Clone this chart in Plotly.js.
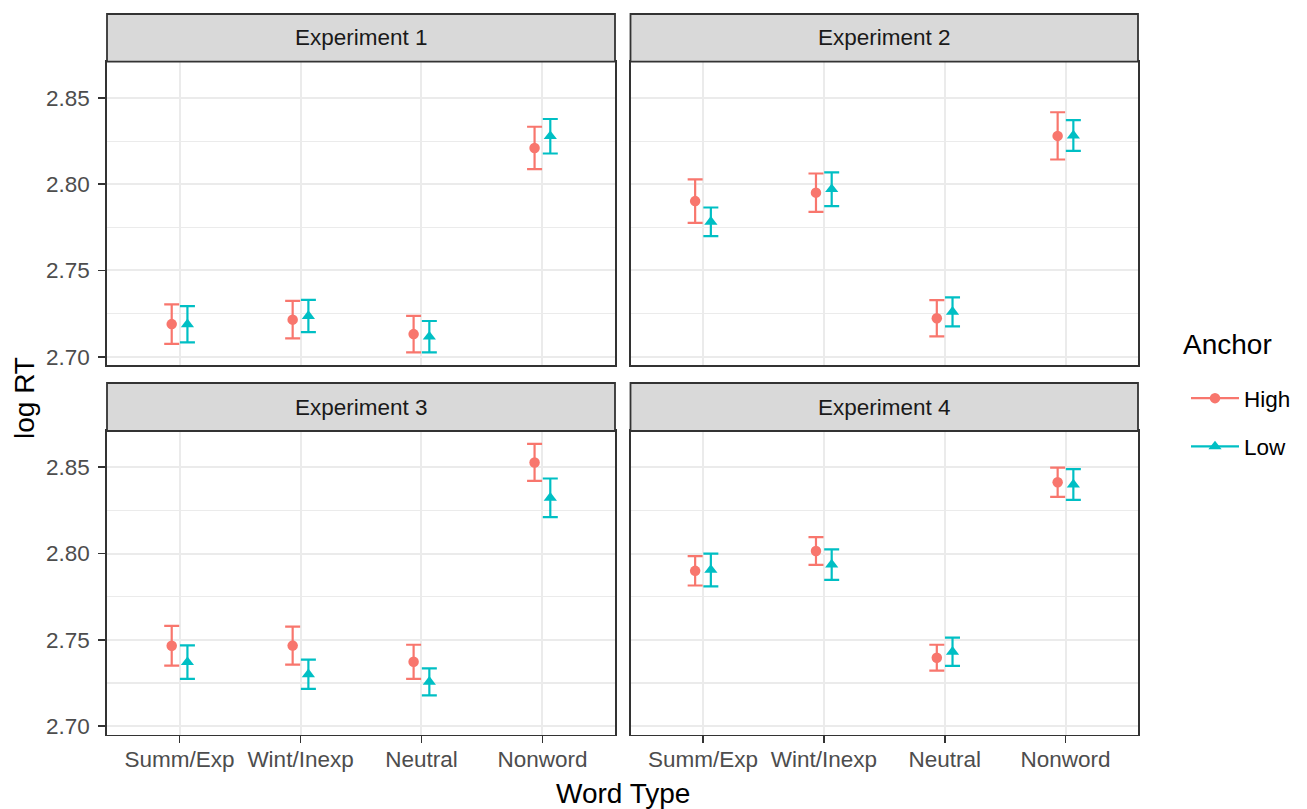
<!DOCTYPE html>
<html>
<head>
<meta charset="utf-8">
<script src="https://cdn.plot.ly/plotly-3.0.1.min.js"></script>
<style>html,body{margin:0;padding:0;background:#fff;}#chart{width:1307px;height:809px;}</style>
</head>
<body>
<div id="chart"></div>
<script>
// ---- data ----
const categories = ["Summ/Exp", "Wint/Inexp", "Neutral", "Nonword"];
const anchors = ["High", "Low"];
const panelTitles = ["Experiment 1", "Experiment 2", "Experiment 3", "Experiment 4"];

const exp1High   = [2.7189, 2.7215, 2.7131, 2.8210];
const exp1HighSE = [0.0114, 0.0109, 0.0106, 0.0123];
const exp1Low    = [2.7188, 2.7236, 2.7116, 2.8278];
const exp1LowSE  = [0.0105, 0.0093, 0.0091, 0.0100];

const exp2High   = [2.7902, 2.7951, 2.7223, 2.8280];
const exp2HighSE = [0.0126, 0.0111, 0.0105, 0.0137];
const exp2Low    = [2.7782, 2.7971, 2.7260, 2.8282];
const exp2LowSE  = [0.0083, 0.0098, 0.0084, 0.0089];

const exp3High   = [2.7466, 2.7467, 2.7373, 2.8528];
const exp3HighSE = [0.0115, 0.0110, 0.0099, 0.0107];
const exp3Low    = [2.7371, 2.7301, 2.7257, 2.8323];
const exp3LowSE  = [0.0097, 0.0085, 0.0078, 0.0112];

const exp4High   = [2.7900, 2.8015, 2.7397, 2.8413];
const exp4HighSE = [0.0085, 0.0080, 0.0075, 0.0085];
const exp4Low    = [2.7905, 2.7936, 2.7431, 2.8400];
const exp4LowSE  = [0.0095, 0.0088, 0.0082, 0.0089];

const yTickVals = [2.70, 2.75, 2.80, 2.85];
const yTickText = ["2.70", "2.75", "2.80", "2.85"];

// ---- styling ----
const colors = {High: "#F8766D", Low: "#00BFC4"};
const symbols = {High: "circle", Low: "triangle-up"};
const msize = {High: 10.5, Low: 11.5};
const dodge = {High: -0.065, Low: 0.065};
const FONT = "Liberation Sans, Arial, Helvetica, sans-serif";

const panels = [
  {High: exp1High, HighSE: exp1HighSE, Low: exp1Low, LowSE: exp1LowSE},
  {High: exp2High, HighSE: exp2HighSE, Low: exp2Low, LowSE: exp2LowSE},
  {High: exp3High, HighSE: exp3HighSE, Low: exp3Low, LowSE: exp3LowSE},
  {High: exp4High, HighSE: exp4HighSE, Low: exp4Low, LowSE: exp4LowSE}
];

const W = 1307, H = 809;
const xDom = [[107/W, 615/W], [630.5/W, 1138/W]];
const yDom = [[1 - 365/H, 1 - 61.7/H], [1 - 734.5/H, 1 - 431/H]];
const stripTop = [14, 383];
const panelTop = [61.7, 431];

const traces = [];
panels.forEach((p, pi) => {
  const ax = pi === 0 ? "" : String(pi + 1);
  anchors.forEach(a => {
    const xs = [], ys = [], es = [];
    categories.forEach((c, ci) => {
      xs.push(ci + 1 + dodge[a], null);
      ys.push(p[a][ci], null);
      es.push(p[a + "SE"][ci], null);
    });
    traces.push({
      type: "scatter",
      mode: "lines+markers",
      x: xs, y: ys,
      xaxis: "x" + ax, yaxis: "y" + ax,
      connectgaps: false,
      name: a,
      legendgroup: a,
      showlegend: pi === 0,
      line: {color: colors[a], width: 2.2},
      marker: {color: colors[a], symbol: symbols[a], size: msize[a]},
      error_y: {type: "data", symmetric: true, array: es, color: colors[a], thickness: 2.2, width: 7.5},
      hoverinfo: "x+y"
    });
  });
});

function xAxis(col, row) {
  const bottom = row === 1;
  return {
    domain: xDom[col], range: [0.4, 4.6], anchor: "y" + (row * 2 + col === 0 ? "" : (row * 2 + col + 1)),
    tickmode: "array", tickvals: [1, 2, 3, 4], ticktext: categories,
    showticklabels: bottom, ticks: bottom ? "outside" : "", ticklen: 7, tickwidth: 1.8, tickcolor: "#333333",
    ticklabelstandoff: -3,
    tickfont: {family: FONT, size: 22.5, color: "#4D4D4D"},
    showgrid: true, gridcolor: "#EBEBEB", gridwidth: 2, zeroline: false,
    showline: true, mirror: true, linecolor: "#333333", linewidth: 1.8,
    fixedrange: true
  };
}
function yAxis(col, row) {
  const left = col === 0;
  return {
    domain: yDom[row], range: [2.6952, 2.8710], anchor: "x" + (row * 2 + col === 0 ? "" : (row * 2 + col + 1)),
    tickmode: "array", tickvals: yTickVals, ticktext: yTickText,
    showticklabels: left, ticks: left ? "outside" : "", ticklen: 7, tickwidth: 1.8, tickcolor: "#333333",
    ticklabelstandoff: 4,
    tickfont: {family: FONT, size: 22.5, color: "#4D4D4D"},
    showgrid: true, gridcolor: "#EBEBEB", gridwidth: 2, zeroline: false,
    minor: {tickvals: [2.725, 2.775, 2.825, 2.875], showgrid: true, gridcolor: "#EBEBEB", gridwidth: 1.1, ticks: ""},
    showline: true, mirror: true, linecolor: "#333333", linewidth: 1.8,
    fixedrange: true
  };
}

const shapes = [], annotations = [];
for (let row = 0; row < 2; row++) {
  for (let col = 0; col < 2; col++) {
    const idx = row * 2 + col;
    shapes.push({
      type: "rect", xref: "paper", yref: "paper", layer: "above",
      x0: xDom[col][0], x1: xDom[col][1],
      y0: 1 - panelTop[row] / H, y1: 1 - stripTop[row] / H,
      fillcolor: "#D9D9D9", line: {color: "#333333", width: 1.8}
    });
    annotations.push({
      xref: "paper", yref: "paper", showarrow: false,
      x: (xDom[col][0] + xDom[col][1]) / 2,
      y: 1 - (stripTop[row] + panelTop[row]) / 2 / H,
      xanchor: "center", yanchor: "middle",
      text: panelTitles[idx], font: {family: FONT, size: 22.5, color: "#1A1A1A"}
    });
  }
}
annotations.push({
  xref: "paper", yref: "paper", showarrow: false, x: 622.5 / W, y: 1 - 793 / H,
  xanchor: "center", yanchor: "middle", text: "Word Type",
  font: {family: FONT, size: 28, color: "#000000"}
});
annotations.push({
  xref: "paper", yref: "paper", showarrow: false, x: 24 / W, y: 1 - 398 / H,
  xanchor: "center", yanchor: "middle", textangle: -90, text: "log RT",
  font: {family: FONT, size: 28, color: "#000000"}
});
// legend title
annotations.push({
  xref: "paper", yref: "paper", showarrow: false, x: 1181 / W, y: 1 - 344 / H,
  xanchor: "left", yanchor: "middle", text: "Anchor",
  font: {family: FONT, size: 28, color: "#000000"}
});

const layout = {
  width: W, height: H,
  margin: {l: 0, r: 0, t: 0, b: 0},
  paper_bgcolor: "#FFFFFF", plot_bgcolor: "#FFFFFF",
  font: {family: FONT},
  xaxis: xAxis(0, 0), yaxis: yAxis(0, 0),
  xaxis2: xAxis(1, 0), yaxis2: yAxis(1, 0),
  xaxis3: xAxis(0, 1), yaxis3: yAxis(0, 1),
  xaxis4: xAxis(1, 1), yaxis4: yAxis(1, 1),
  shapes: shapes, annotations: annotations,
  showlegend: true,
  legend: {
    x: 1186 / W, xanchor: "left", y: 1 - 377 / H, yanchor: "top",
    itemwidth: 48,
    font: {family: FONT, size: 22.5, color: "#000000"},
    tracegroupgap: 16, bgcolor: "rgba(0,0,0,0)", borderwidth: 0
  }
};

Plotly.newPlot("chart", traces, layout, {displayModeBar: false, staticPlot: true});
</script>
</body>
</html>
